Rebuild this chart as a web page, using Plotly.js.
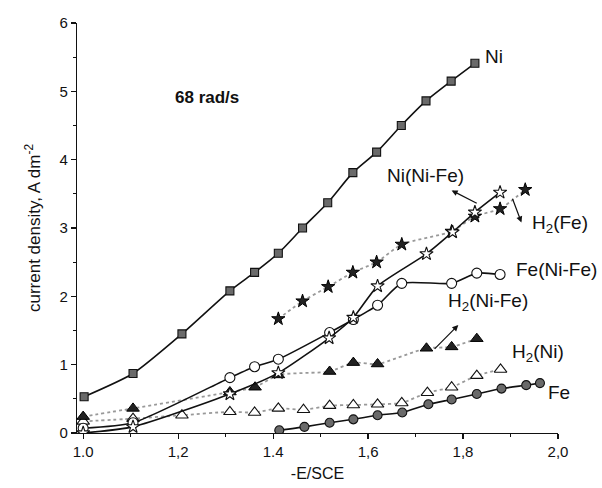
<!DOCTYPE html>
<html>
<head>
<meta charset="utf-8">
<script src="https://cdn.plot.ly/plotly-3.0.1.min.js"></script>
<style>html,body{margin:0;padding:0;background:#fff;}#chart{width:602px;height:488px;}</style>
</head>
<body>
<div id="chart"></div>
<script>
// Ni
const niX = [1.002, 1.105, 1.208, 1.309, 1.361, 1.411, 1.462, 1.515, 1.568, 1.618, 1.670, 1.722, 1.775, 1.825];
const niY = [0.53, 0.87, 1.45, 2.08, 2.35, 2.63, 3.00, 3.37, 3.81, 4.11, 4.50, 4.86, 5.15, 5.41];
// H2(Fe)
const h2feX = [1.411, 1.462, 1.516, 1.568, 1.618, 1.671, 1.776, 1.825, 1.878, 1.931];
const h2feY = [1.67, 1.93, 2.14, 2.35, 2.50, 2.76, 2.95, 3.17, 3.28, 3.56];
// Ni(Ni-Fe)
const niNiFeX = [1.0, 1.105, 1.309, 1.411, 1.518, 1.569, 1.620, 1.723, 1.778, 1.825, 1.878];
const niNiFeY = [0.00, 0.09, 0.57, 0.88, 1.39, 1.69, 2.15, 2.62, 2.94, 3.23, 3.52];
// Fe(Ni-Fe)
const feNiFeX = [1.0, 1.105, 1.309, 1.361, 1.411, 1.519, 1.569, 1.620, 1.671, 1.776, 1.829, 1.878];
const feNiFeY = [0.07, 0.15, 0.81, 0.97, 1.08, 1.47, 1.66, 1.87, 2.19, 2.19, 2.34, 2.32];
// H2(Ni-Fe)
const h2niFeX = [1.0, 1.105, 1.309, 1.362, 1.411, 1.519, 1.569, 1.620, 1.723, 1.776, 1.829];
const h2niFeY = [0.24, 0.36, 0.60, 0.67, 0.85, 0.90, 1.03, 1.01, 1.24, 1.26, 1.38];
// H2(Ni)
const h2niX = [1.0, 1.105, 1.208, 1.309, 1.361, 1.411, 1.464, 1.519, 1.569, 1.620, 1.671, 1.725, 1.776, 1.829, 1.879];
const h2niY = [0.17, 0.21, 0.26, 0.31, 0.30, 0.36, 0.34, 0.40, 0.41, 0.42, 0.44, 0.59, 0.67, 0.84, 0.93];
// Fe
const feX = [1.413, 1.466, 1.519, 1.569, 1.620, 1.672, 1.727, 1.776, 1.829, 1.881, 1.933, 1.962];
const feY = [0.04, 0.09, 0.15, 0.20, 0.26, 0.30, 0.42, 0.49, 0.57, 0.65, 0.70, 0.73];

const xTickVals = [1.0, 1.2, 1.4, 1.6, 1.8, 2.0];
const xTickText = ['1.0', '1,2', '1.4', '1,6', '1,8', '2,0'];
const yTickVals = [0, 1, 2, 3, 4, 5, 6];

const FONT = 'Liberation Sans, Arial, sans-serif';
const darkLine = {color: '#111', width: 1.6, shape: 'spline', smoothing: 0.6};
const greyLine = {color: '#999', width: 1.8, dash: 'dot', shape: 'spline', smoothing: 0.6};

const traces = [
  {x: h2niX, y: h2niY, mode: 'lines+markers', name: 'H2(Ni)', line: greyLine,
   marker: {symbol: 'triangle-up', size: 11, color: '#fff', line: {color: '#111', width: 1.1}}},
  {x: h2niFeX, y: h2niFeY, mode: 'lines+markers', name: 'H2(Ni-Fe)', line: greyLine,
   marker: {symbol: 'triangle-up', size: 11, color: '#222', line: {color: '#000', width: 1}}},
  {x: h2feX, y: h2feY, mode: 'lines+markers', name: 'H2(Fe)', line: greyLine,
   marker: {symbol: 'star', size: 10, color: '#222', line: {color: '#000', width: 1}}},
  {x: feX, y: feY, mode: 'lines+markers', name: 'Fe', line: darkLine,
   marker: {symbol: 'circle', size: 9, color: '#6a6a6a', line: {color: '#111', width: 1.1}}},
  {x: feNiFeX, y: feNiFeY, mode: 'lines+markers', name: 'Fe(Ni-Fe)', line: darkLine,
   marker: {symbol: 'circle', size: 10, color: '#fff', line: {color: '#111', width: 1.1}}},
  {x: niNiFeX, y: niNiFeY, mode: 'lines+markers', name: 'Ni(Ni-Fe)', line: darkLine,
   marker: {symbol: 'star', size: 10, color: '#fff', line: {color: '#111', width: 1.1}}},
  {x: niX, y: niY, mode: 'lines+markers', name: 'Ni', line: darkLine,
   marker: {symbol: 'square', size: 8, color: '#6a6a6a', line: {color: '#111', width: 1.1}}}
];

const lab = (text, x, y, xanchor, size, bold) => ({
  text: bold ? '<b>' + text + '</b>' : text, x: x, y: y, xref: 'paper', yref: 'paper',
  showarrow: false, xanchor: xanchor || 'center', yanchor: 'middle',
  font: {family: FONT, size: size || 19, color: '#111'}
});
const arrow = (x, y, ax, ay) => ({
  text: '', x: x, y: y, ax: ax, ay: ay, xref: 'x', yref: 'y', axref: 'x', ayref: 'y',
  showarrow: true, arrowhead: 2, arrowsize: 1, arrowwidth: 1.2, arrowcolor: '#111'
});

const layout = {
  width: 602, height: 488,
  margin: {l: 77, r: 44, t: 23, b: 55},
  paper_bgcolor: '#fff', plot_bgcolor: '#fff',
  showlegend: false,
  font: {family: FONT, color: '#111'},
  xaxis: {
    range: [0.987, 2.0], showgrid: false, zeroline: false,
    showline: true, linecolor: '#111', linewidth: 1.2,
    ticks: 'outside', ticklen: 5, tickwidth: 1.2, tickcolor: '#111',
    tickvals: xTickVals, ticktext: xTickText,
    minor: {dtick: 0.1, tick0: 1.0, ticks: 'outside', ticklen: 3, tickcolor: '#111'},
    tickfont: {family: FONT, size: 15, color: '#111'},
    title: {text: '-E/SCE', font: {family: FONT, size: 16, color: '#111'}, standoff: 8}
  },
  yaxis: {
    range: [0, 6], showgrid: false, zeroline: false,
    showline: true, linecolor: '#111', linewidth: 1.2,
    ticks: 'outside', ticklen: 5, tickwidth: 1.2, tickcolor: '#111',
    tickvals: yTickVals,
    minor: {dtick: 0.5, tick0: 0, ticks: 'outside', ticklen: 3, tickcolor: '#111'},
    tickfont: {family: FONT, size: 15, color: '#111'},
    title: {text: 'current density, A dm<sup>-2</sup>', font: {family: FONT, size: 17, color: '#111'}, standoff: 14}
  },
  annotations: [
    lab('68 rad/s', 0.2696, 0.818, 'center', 17, true),
    lab('Ni', 0.844, 0.9195, 'left'),
    lab('Ni(Ni-Fe)', 0.7235, 0.628, 'center'),
    lab('H<sub>2</sub>(Fe)', 1.004, 0.51, 'center'),
    lab('Fe(Ni-Fe)', 0.996, 0.40, 'center'),
    lab('H<sub>2</sub>(Ni-Fe)', 0.854, 0.3195, 'center'),
    lab('H<sub>2</sub>(Ni)', 0.958, 0.195, 'center'),
    lab('Fe', 1.002, 0.10, 'center'),
    arrow(1.776, 3.55, 1.832, 3.35),
    arrow(1.923, 3.08, 1.903, 3.45),
    arrow(1.79, 1.58, 1.737, 1.21)
  ]
};

Plotly.newPlot('chart', traces, layout, {displayModeBar: false, staticPlot: true});
</script>
</body>
</html>
